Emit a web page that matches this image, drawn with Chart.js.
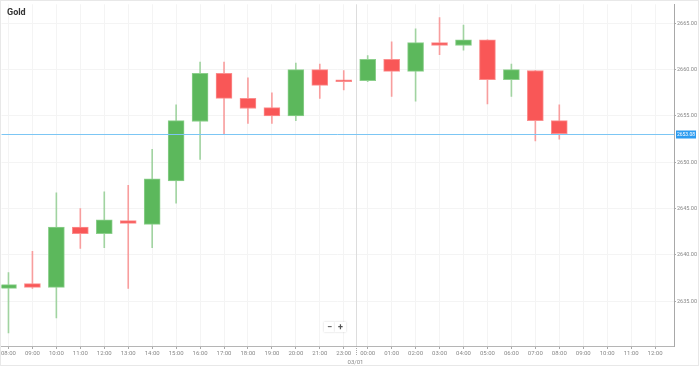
<!DOCTYPE html>
<html>
<head>
<meta charset="utf-8">
<script src="https://cdn.jsdelivr.net/npm/chart.js@4.4.1/dist/chart.umd.min.js"></script>
<style>
    html, body { margin: 0; padding: 0; background: #fff; }
    #wrap { position: relative; width: 699px; height: 366px; font-family: Roboto, "Open Sans", sans-serif; }
    #frame { position: absolute; left: 0; top: 0; right: 0; bottom: 0; border: 1px solid #e8e8e8; box-sizing: border-box; pointer-events: none; }
    #title { position: absolute; left: 7px; top: 7px; font-size: 9px; font-weight: bold; color: #333; }
    #zoom { position: absolute; left: 324px; top: 322px; display: flex; }
    #zoom span { width: 11px; height: 10px; line-height: 10px; text-align: center; font-size: 9px; font-weight: bold; color: #555;
                 background: #fff; box-shadow: 0 0 2px rgba(0,0,0,0.18); }
</style>
</head>
<body>
<div id="wrap">
    <canvas id="goldChart"></canvas>
    <div id="title">Gold</div>
    <div id="zoom"><span>−</span><span>+</span></div>
    <div id="frame"></div>
</div>
<script>
// Horas (22:00 não existe - pausa do mercado)
const labels = ['08:00', '09:00', '10:00', '11:00', '12:00', '13:00', '14:00', '15:00', '16:00', '17:00',
                '18:00', '19:00', '20:00', '21:00', '23:00', '00:00', '01:00', '02:00', '03:00', '04:00',
                '05:00', '06:00', '07:00', '08:00', '09:00', '10:00', '11:00', '12:00'];

const openVals  = [2636.4, 2636.9, 2636.5, 2643.0, 2642.3, 2643.7, 2643.3, 2648.0, 2654.4, 2659.6,
                   2656.9, 2655.9, 2655.0, 2660.0, 2658.9, 2658.8, 2661.1, 2659.8, 2662.9, 2662.6,
                   2663.2, 2658.9, 2659.9, 2654.5];
const highVals  = [2638.1, 2640.4, 2646.7, 2645.0, 2646.8, 2647.5, 2651.4, 2656.2, 2660.8, 2660.8,
                   2659.1, 2657.5, 2660.7, 2660.6, 2659.9, 2661.5, 2663.0, 2664.4, 2665.6, 2664.8,
                   2663.2, 2660.6, 2659.9, 2656.2];
const lowVals   = [2631.6, 2636.4, 2633.2, 2640.7, 2640.8, 2636.4, 2640.8, 2645.6, 2650.3, 2653.0,
                   2654.2, 2654.2, 2654.5, 2656.9, 2657.8, 2658.7, 2657.1, 2656.6, 2661.6, 2662.1,
                   2656.3, 2657.1, 2652.3, 2652.5];
const closeVals = [2636.8, 2636.5, 2643.0, 2642.3, 2643.8, 2643.4, 2648.2, 2654.5, 2659.6, 2656.9,
                   2655.8, 2655.0, 2660.0, 2658.3, 2658.7, 2661.1, 2659.8, 2662.9, 2662.6, 2663.2,
                   2658.9, 2660.0, 2654.5, 2653.08];

const yTicks = [2635, 2640, 2645, 2650, 2655, 2660, 2665];
const currentPrice = 2653.08;
const dateLabel = '03/01';
const dateIndex = 14.5; // entre 23:00 e 00:00

const GREEN = '#5cb85c';
const RED = '#f95757';

const up = closeVals.map((c, i) => c >= openVals[i]);

// Linha do preço atual, separador de data e etiqueta do preço
const extras = {
    id: 'extras',
    beforeDatasetsDraw(chart) {
        const { ctx, chartArea, scales } = chart;
        const x = Math.round(scales.x.getPixelForValue(dateIndex)) + 0.5;
        ctx.save();
        ctx.strokeStyle = '#dddddd';
        ctx.lineWidth = 1;
        ctx.beginPath();
        ctx.moveTo(x, chartArea.top);
        ctx.lineTo(x, chartArea.bottom);
        ctx.stroke();
        ctx.restore();
    },
    afterDraw(chart) {
        const { ctx, chartArea, scales } = chart;
        const y = Math.round(scales.y.getPixelForValue(currentPrice)) + 0.5;
        ctx.save();
        ctx.strokeStyle = '#7cc6f4';
        ctx.lineWidth = 1;
        ctx.beginPath();
        ctx.moveTo(chartArea.left, y);
        ctx.lineTo(chartArea.right, y);
        ctx.stroke();

        ctx.fillStyle = '#2d9cf0';
        ctx.fillRect(chartArea.right + 2, y - 4, 20, 8);
        ctx.fillStyle = '#fff';
        ctx.font = '5px Roboto';
        ctx.textAlign = 'center';
        ctx.textBaseline = 'middle';
        ctx.fillText(currentPrice.toFixed(2), chartArea.right + 12, y + 0.5);

        // separador de data no eixo
        const x = Math.round(scales.x.getPixelForValue(dateIndex)) + 0.5;
        ctx.strokeStyle = '#aaaaaa';
        ctx.setLineDash([1, 1]);
        ctx.beginPath();
        ctx.moveTo(x, chartArea.bottom);
        ctx.lineTo(x, chartArea.bottom + 10);
        ctx.stroke();
        ctx.setLineDash([]);
        ctx.fillStyle = '#888';
        ctx.font = '6px Roboto';
        ctx.fillText(dateLabel, x - 1, chartArea.bottom + 16);
        ctx.restore();
    }
};

new Chart(document.getElementById('goldChart').getContext('2d'), {
    type: 'bar',
    data: {
        datasets: [
            {
                label: 'Corpo',
                data: openVals.map((o, i) => ({ x: i, y: [o, closeVals[i]] })),
                backgroundColor: up.map(u => u ? GREEN : RED),
                borderColor: up.map(u => u ? '#8ccf8c' : '#fb8e8e'),
                borderWidth: 1,
                borderSkipped: false,
                barThickness: 16,
                grouped: false,
                order: 1
            },
            {
                label: 'Pavio',
                data: lowVals.map((l, i) => ({ x: i, y: [l, highVals[i]] })),
                backgroundColor: up.map(u => u ? 'rgba(92,184,92,0.55)' : 'rgba(249,87,87,0.55)'),
                borderWidth: 0,
                barThickness: 1,
                grouped: false,
                order: 2
            }
        ]
    },
    options: {
        responsive: true,
        maintainAspectRatio: false,
        animation: false,
        layout: { padding: { top: 2, left: 0, right: 0, bottom: 0 } },
        plugins: {
            legend: { display: false },
            tooltip: { enabled: false }
        },
        scales: {
            x: {
                type: 'linear',
                min: -0.29,
                max: 27.79,
                offset: false,
                afterBuildTicks: s => { s.ticks = labels.map((_, i) => ({ value: i })); },
                afterFit: s => { s.height = 20; },
                grid: { offset: false, color: '#f4f4f4', tickColor: '#aaa', tickLength: 3 },
                border: { color: '#b5b5b5' },
                ticks: {
                    autoSkip: false,
                    maxRotation: 0,
                    padding: 1,
                    color: '#888',
                    font: { family: 'Roboto', size: 6 },
                    callback: v => labels[v]
                }
            },
            y: {
                position: 'right',
                min: 2630.18,
                max: 2667.04,
                afterBuildTicks: s => { s.ticks = yTicks.map(v => ({ value: v })); },
                afterFit: s => { s.width = 25; },
                grid: { color: '#f4f4f4', tickColor: '#aaa', tickLength: 2 },
                border: { color: '#a8a8a8', width: 1 },
                ticks: {
                    padding: 1,
                    color: '#888',
                    font: { family: 'Roboto', size: 5.5 },
                    callback: v => v.toFixed(2)
                }
            }
        }
    },
    plugins: [extras]
});
</script>
</body>
</html>
